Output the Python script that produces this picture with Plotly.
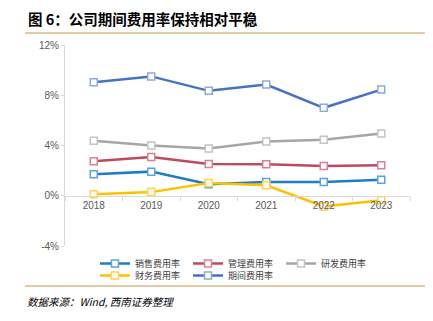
import plotly.graph_objects as go

W, H = 433, 321
years = ["2018", "2019", "2020", "2021", "2022", "2023"]
sales = [1.71, 1.92, 0.91, 1.09, 1.09, 1.28]
mgmt = [2.75, 3.09, 2.53, 2.51, 2.37, 2.43]
rnd = [4.37, 4.00, 3.76, 4.32, 4.45, 4.96]
fin = [0.11, 0.29, 1.01, 0.83, -0.85, -0.35]
period = [9.04, 9.50, 8.35, 8.85, 7.00, 8.45]

names = ["销售费用率", "管理费用率", "研发费用率", "财务费用率", "期间费用率"]
series = [sales, mgmt, rnd, fin, period]
line_colors = ["#1F7DC8", "#C0485F", "#A6A6A6", "#FFC000", "#4472C4"]
marker_colors = ["#5BA3DD", "#D98096", "#C4C4C4", "#FFD34D", "#8EA9DB"]
legend_rows = ["legend", "legend", "legend", "legend2", "legend2"]

y_ticks = [-4, 0, 4, 8, 12]
y_labels = ["-4%", "0%", "4%", "8%", "12%"]

L, R, T, B = 65, 410, 45, 246

fig = go.Figure()
for name, vals, lc, mc, lg in zip(names, series, line_colors, marker_colors, legend_rows):
    fig.add_trace(go.Scatter(
        x=years, y=vals, name=name, mode="lines+markers", legend=lg,
        line=dict(color=lc, width=2.5),
        marker=dict(symbol="square", size=7, color="white",
                    line=dict(color=mc, width=1.5)),
    ))

leg_common = dict(orientation="h", x=(95 - L) / (R - L), xanchor="left", yanchor="top",
                  entrywidth=48, entrywidthmode="pixels", bgcolor="rgba(0,0,0,0)",
                  font=dict(family="Noto Sans CJK SC", size=9, color="#404040"),
                  itemwidth=30, tracegroupgap=0)

fig.update_layout(
    width=W, height=H,
    margin=dict(l=L, r=W - R, t=T, b=H - B, pad=0, autoexpand=False),
    paper_bgcolor="white", plot_bgcolor="white",
    showlegend=True,
    legend=dict(y=-(262 - B - 13) / (B - T), **leg_common),
    legend2=dict(y=-(274 - B - 13) / (B - T), **leg_common),
    xaxis=dict(type="category", range=[-0.5, 5.5], anchor="free", position=0.25,
               showline=True, linecolor="#D9D9D9", linewidth=1,
               ticks="outside", tickson="boundaries", ticklen=4, tickcolor="#D9D9D9",
               showgrid=False, zeroline=False,
               tickfont=dict(family="Liberation Sans, Arial", size=10, color="#595959")),
    yaxis=dict(range=[-4, 12], tickvals=y_ticks, ticktext=y_labels,
               showline=True, linecolor="#D9D9D9", linewidth=1,
               ticks="outside", ticklen=3, tickcolor="#D9D9D9",
               showgrid=False, zeroline=False,
               tickfont=dict(family="Liberation Sans, Arial", size=10, color="#595959")),
    font=dict(family="Noto Sans CJK SC"),
)

# title, rules and source
fig.add_annotation(text="<b>图 6：公司期间费用率保持相对平稳</b>", xref="paper", yref="paper",
                   x=(26 - L) / (R - L), y=1 + (T - 18) / (B - T), xanchor="left", yanchor="middle",
                   showarrow=False, font=dict(family="Noto Sans CJK SC", size=14.5, color="#000000"))
fig.add_annotation(text="<i>数据来源：Wind, 西南证券整理</i>", xref="paper", yref="paper",
                   x=(25 - L) / (R - L), y=-(301 - B) / (B - T), xanchor="left", yanchor="middle",
                   showarrow=False, font=dict(family="Noto Sans CJK SC", size=10.5, color="#000000"))
for yy in (33, 286):
    fig.add_shape(type="line", xref="paper", yref="paper",
                  x0=(25 - L) / (R - L), x1=(425 - L) / (R - L),
                  y0=(B - yy) / (B - T), y1=(B - yy) / (B - T),
                  line=dict(color="#D9BB84", width=1.5))

fig.write_html("out.html")
